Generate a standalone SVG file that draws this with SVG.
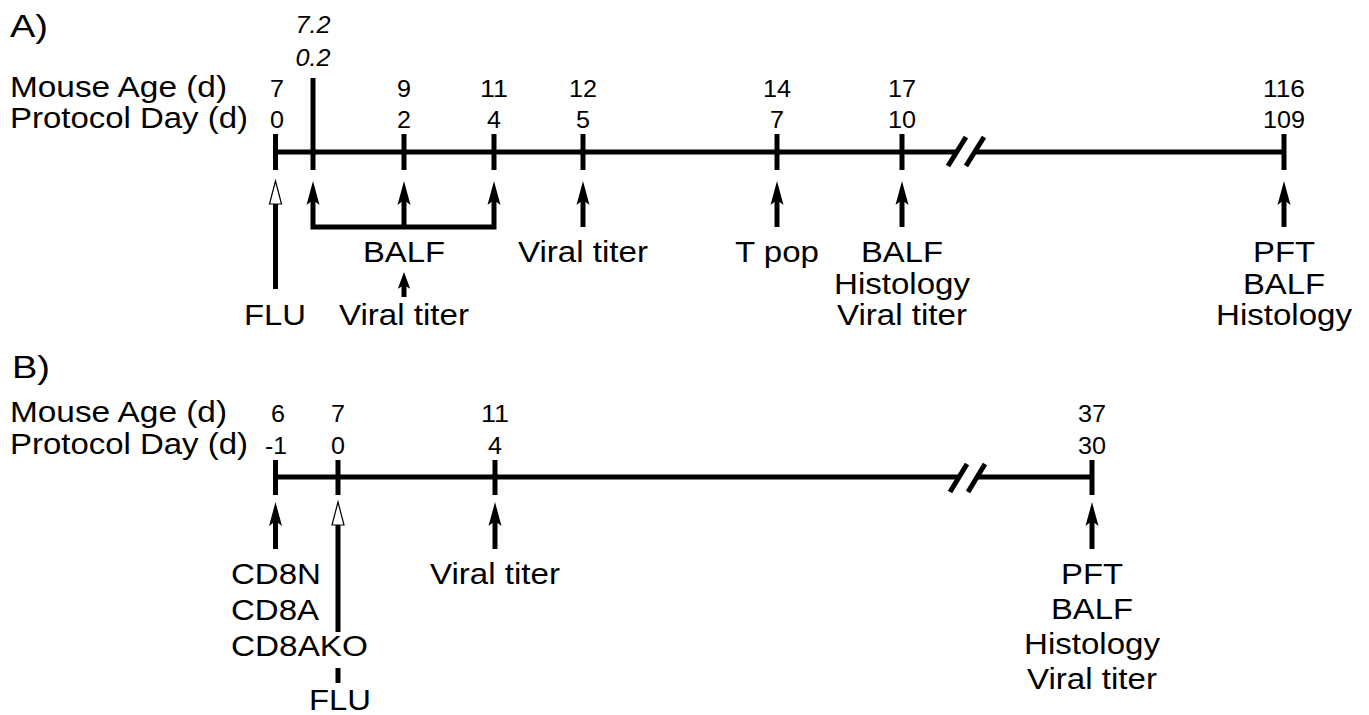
<svg xmlns="http://www.w3.org/2000/svg" xmlns:xlink="http://www.w3.org/1999/xlink" width="1369" height="715" viewBox="0 0 1369 715">
<style>
text { font-family: "Liberation Sans", Arial, sans-serif; fill: #000; }
.hdr { font-size: 32px; }
.lbl { font-size: 29px; }
.num { font-size: 24px; text-anchor: middle; }
.it { font-size: 24px; font-style: italic; text-anchor: middle; }
.c { text-anchor: middle; }
.ln { stroke: #000; stroke-width: 5; fill: none; }
.tk { stroke: #000; stroke-width: 5; }
.sl { stroke: #000; stroke-width: 5; }
</style>
<defs>
<path id="head" d="M0,0 L6.5,24 L0,19 L-6.5,24 Z" fill="#000"/>
<path id="ohead" d="M0,0 L6,23 L-6,23 Z" fill="#fff" stroke="#000" stroke-width="1.2"/>
</defs>
<rect width="1369" height="715" fill="#fff"/>

<g id="panelA-title"><text class="hdr" x="10" y="37" textLength="38" lengthAdjust="spacingAndGlyphs">A)</text></g>
<g id="panelA-axis-labels">
<text class="lbl" x="10" y="97" textLength="217" lengthAdjust="spacingAndGlyphs">Mouse Age (d)</text>
<text class="lbl" x="10" y="128" textLength="238" lengthAdjust="spacingAndGlyphs">Protocol Day (d)</text>
</g>

<g id="timelineA">
<line class="ln" x1="275" y1="152" x2="957" y2="152"/>
<line class="ln" x1="975" y1="152" x2="1284" y2="152"/>
<line class="sl" x1="948" y1="166" x2="966" y2="137"/>
<line class="sl" x1="966" y1="166" x2="984" y2="137"/>
</g>

<g id="tickA0"><line class="tk" x1="275.5" y1="134" x2="275.5" y2="170"/><text class="num" x="277" y="97" textLength="14" lengthAdjust="spacingAndGlyphs">7</text><text class="num" x="277" y="128" textLength="14" lengthAdjust="spacingAndGlyphs">0</text></g>
<g id="tickA02"><line class="tk" x1="313" y1="78" x2="313" y2="170"/><text class="it" x="313" y="33" textLength="35" lengthAdjust="spacingAndGlyphs">7.2</text><text class="it" x="313" y="66" textLength="35" lengthAdjust="spacingAndGlyphs">0.2</text></g>
<g id="tickA2"><line class="tk" x1="404" y1="134" x2="404" y2="170"/><text class="num" x="404" y="97" textLength="14" lengthAdjust="spacingAndGlyphs">9</text><text class="num" x="404" y="128" textLength="14" lengthAdjust="spacingAndGlyphs">2</text></g>
<g id="tickA4"><line class="tk" x1="494" y1="134" x2="494" y2="170"/><text class="num" x="494" y="97" textLength="28" lengthAdjust="spacingAndGlyphs">11</text><text class="num" x="494" y="128" textLength="14" lengthAdjust="spacingAndGlyphs">4</text></g>
<g id="tickA5"><line class="tk" x1="583" y1="134" x2="583" y2="170"/><text class="num" x="583" y="97" textLength="28" lengthAdjust="spacingAndGlyphs">12</text><text class="num" x="583" y="128" textLength="14" lengthAdjust="spacingAndGlyphs">5</text></g>
<g id="tickA7"><line class="tk" x1="777" y1="134" x2="777" y2="170"/><text class="num" x="777" y="97" textLength="28" lengthAdjust="spacingAndGlyphs">14</text><text class="num" x="777" y="128" textLength="14" lengthAdjust="spacingAndGlyphs">7</text></g>
<g id="tickA10"><line class="tk" x1="902" y1="134" x2="902" y2="170"/><text class="num" x="902" y="97" textLength="28" lengthAdjust="spacingAndGlyphs">17</text><text class="num" x="902" y="128" textLength="28" lengthAdjust="spacingAndGlyphs">10</text></g>
<g id="tickA109"><line class="tk" x1="1284" y1="134" x2="1284" y2="170"/><text class="num" x="1284" y="97" textLength="42" lengthAdjust="spacingAndGlyphs">116</text><text class="num" x="1284" y="128" textLength="42" lengthAdjust="spacingAndGlyphs">109</text></g>

<g id="connectorsA">
<line class="ln" x1="275.5" y1="289" x2="275.5" y2="203"/>
<use xlink:href="#ohead" x="275.5" y="181"/>
<path class="ln" d="M313,196 V227 H494 V196" stroke-linejoin="miter"/>
<use xlink:href="#head" x="313" y="181"/>
<line class="ln" x1="404" y1="227" x2="404" y2="196"/>
<use xlink:href="#head" x="404" y="181"/>
<use xlink:href="#head" x="494" y="181"/>
<line class="ln" x1="404" y1="297" x2="404" y2="283"/>
<use xlink:href="#head" transform="translate(404,272) scale(0.95,0.7)"/>
<line class="ln" x1="583" y1="227" x2="583" y2="196"/>
<use xlink:href="#head" x="583" y="181"/>
<line class="ln" x1="777" y1="227" x2="777" y2="196"/>
<use xlink:href="#head" x="777" y="181"/>
<line class="ln" x1="902" y1="227" x2="902" y2="196"/>
<use xlink:href="#head" x="902" y="181"/>
<line class="ln" x1="1284" y1="227" x2="1284" y2="196"/>
<use xlink:href="#head" x="1284" y="181"/>
</g>

<g id="labelA-FLU"><text class="lbl c" x="275" y="325" textLength="62" lengthAdjust="spacingAndGlyphs">FLU</text></g>
<g id="labelA-BALF"><text class="lbl c" x="404" y="262" textLength="82" lengthAdjust="spacingAndGlyphs">BALF</text></g>
<g id="labelA-viral1"><text class="lbl c" x="404" y="325" textLength="130" lengthAdjust="spacingAndGlyphs">Viral titer</text></g>
<g id="labelA-viral2"><text class="lbl c" x="583" y="262" textLength="130" lengthAdjust="spacingAndGlyphs">Viral titer</text></g>
<g id="labelA-Tpop"><text class="lbl c" x="777" y="262" textLength="84" lengthAdjust="spacingAndGlyphs">T pop</text></g>
<g id="labelA-10">
<text class="lbl c" x="902" y="262" textLength="82" lengthAdjust="spacingAndGlyphs">BALF</text>
<text class="lbl c" x="902" y="294" textLength="136" lengthAdjust="spacingAndGlyphs">Histology</text>
<text class="lbl c" x="902" y="325" textLength="130" lengthAdjust="spacingAndGlyphs">Viral titer</text>
</g>
<g id="labelA-109">
<text class="lbl c" x="1284" y="262" textLength="62" lengthAdjust="spacingAndGlyphs">PFT</text>
<text class="lbl c" x="1284" y="294" textLength="82" lengthAdjust="spacingAndGlyphs">BALF</text>
<text class="lbl c" x="1284" y="325" textLength="136" lengthAdjust="spacingAndGlyphs">Histology</text>
</g>

<g id="panelB-title"><text class="hdr" x="12" y="378" textLength="38" lengthAdjust="spacingAndGlyphs">B)</text></g>
<g id="panelB-axis-labels">
<text class="lbl" x="10" y="422" textLength="217" lengthAdjust="spacingAndGlyphs">Mouse Age (d)</text>
<text class="lbl" x="10" y="454" textLength="238" lengthAdjust="spacingAndGlyphs">Protocol Day (d)</text>
</g>

<g id="timelineB">
<line class="ln" x1="275" y1="477" x2="958" y2="477"/>
<line class="ln" x1="976" y1="477" x2="1092" y2="477"/>
<line class="sl" x1="950" y1="492" x2="967" y2="464"/>
<line class="sl" x1="968" y1="492" x2="985" y2="464"/>
</g>

<g id="tickBm1"><line class="tk" x1="275.5" y1="460" x2="275.5" y2="495"/><text class="num" x="278" y="422" textLength="14" lengthAdjust="spacingAndGlyphs">6</text><text class="num" x="276" y="454" textLength="22" lengthAdjust="spacingAndGlyphs">-1</text></g>
<g id="tickB0"><line class="tk" x1="338" y1="460" x2="338" y2="495"/><text class="num" x="338" y="422" textLength="14" lengthAdjust="spacingAndGlyphs">7</text><text class="num" x="338" y="454" textLength="14" lengthAdjust="spacingAndGlyphs">0</text></g>
<g id="tickB4"><line class="tk" x1="495" y1="460" x2="495" y2="495"/><text class="num" x="495" y="422" textLength="28" lengthAdjust="spacingAndGlyphs">11</text><text class="num" x="495" y="454" textLength="14" lengthAdjust="spacingAndGlyphs">4</text></g>
<g id="tickB30"><line class="tk" x1="1092" y1="460" x2="1092" y2="495"/><text class="num" x="1092" y="422" textLength="28" lengthAdjust="spacingAndGlyphs">37</text><text class="num" x="1092" y="454" textLength="28" lengthAdjust="spacingAndGlyphs">30</text></g>

<g id="connectorsB">
<line class="ln" x1="275.5" y1="549" x2="275.5" y2="517"/>
<use xlink:href="#head" x="275.5" y="502"/>
<line class="ln" x1="338" y1="632" x2="338" y2="524"/>
<line class="ln" x1="338" y1="668" x2="338" y2="683"/>
<use xlink:href="#ohead" x="338" y="502"/>
<line class="ln" x1="495" y1="549" x2="495" y2="517"/>
<use xlink:href="#head" x="495" y="502"/>
<line class="ln" x1="1092" y1="549" x2="1092" y2="517"/>
<use xlink:href="#head" x="1092" y="502"/>
</g>

<g id="labelB-CD8">
<text class="lbl" x="231" y="584" textLength="90" lengthAdjust="spacingAndGlyphs">CD8N</text>
<text class="lbl" x="231" y="620" textLength="88" lengthAdjust="spacingAndGlyphs">CD8A</text>
<text class="lbl" x="231" y="656" textLength="137" lengthAdjust="spacingAndGlyphs">CD8AKO</text>
</g>
<g id="labelB-FLU"><text class="lbl c" x="340" y="710" textLength="62" lengthAdjust="spacingAndGlyphs">FLU</text></g>
<g id="labelB-viral"><text class="lbl c" x="495" y="584" textLength="130" lengthAdjust="spacingAndGlyphs">Viral titer</text></g>
<g id="labelB-30">
<text class="lbl c" x="1092" y="584" textLength="62" lengthAdjust="spacingAndGlyphs">PFT</text>
<text class="lbl c" x="1092" y="619" textLength="82" lengthAdjust="spacingAndGlyphs">BALF</text>
<text class="lbl c" x="1092" y="654" textLength="136" lengthAdjust="spacingAndGlyphs">Histology</text>
<text class="lbl c" x="1092" y="689" textLength="130" lengthAdjust="spacingAndGlyphs">Viral titer</text>
</g>
</svg>
